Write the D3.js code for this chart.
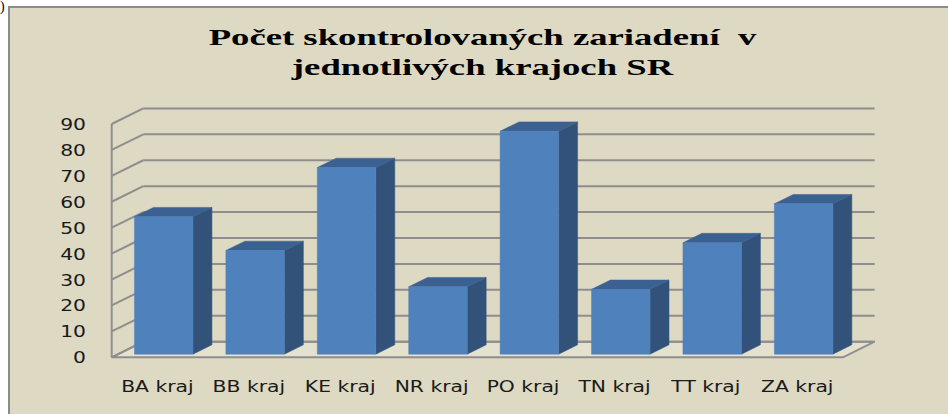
<!DOCTYPE html>
<html>
<head>
<meta charset="utf-8">
<script src="https://cdn.jsdelivr.net/npm/d3@7"></script>
<style>
  body { margin: 0; background: #fff; }
  svg { display: block; }
</style>
</head>
<body>
<script>
// data
var categories = ["BA kraj", "BB kraj", "KE kraj", "NR kraj", "PO kraj", "TN kraj", "TT kraj", "ZA kraj"];
var values = [53, 40, 72, 26, 86, 25, 43, 58];
var yTicks = [0, 10, 20, 30, 40, 50, 60, 70, 80, 90];
var titleLines = ["Počet skontrolovaných zariadení  v", "jednotlivých krajoch SR"];

var W = 948, H = 414;
// 3d box: front floor edge, and depth offset to the back wall
var x0 = 111.7, x1 = 843;
var DX = 31.6, DY = 15.6;
var f0 = 0.2, f1 = 0.8;   // bar front / back depth
var stretch = 1.27;       // picture text is stretched sideways

var svg = d3.select("body").append("svg")
    .attr("width", W)
    .attr("height", H);

// frame
svg.append("rect")
    .attr("x", 9).attr("y", 7)
    .attr("width", W + 20).attr("height", H + 20)
    .style("fill", "#ddd9c3")
    .style("stroke", "#8c8c8c")
    .style("stroke-width", 2);

svg.append("text")
    .attr("x", 0).attr("y", 11)
    .style("font-family", "Liberation Serif")
    .style("font-size", "14px")
    .text(")");

// scales
var x = d3.scaleBand().domain(categories).range([x0, x1]).paddingInner(0.36).paddingOuter(0.18);
var y = d3.scaleLinear().domain([0, 90]).range([357.3, 124]);

function P(px, v, f) {
    return [px + f * DX, y(v) - f * DY];
}

// title
titleLines.forEach(function(t, i) {
    svg.append("text")
        .attr("transform", "translate(482.5," + (45 + i * 30) + ") scale(1.53,1)")
        .attr("text-anchor", "middle")
        .style("white-space", "pre")
        .style("font-family", "Liberation Serif")
        .style("font-weight", "bold")
        .style("font-size", "24px")
        .style("fill", "#000")
        .text(t);
});

var grid = svg.append("g")
    .style("stroke", "#8e8e8e")
    .style("stroke-width", 2)
    .style("fill", "none");

// floor
var floorPts = [P(x0, 0, 0), P(x1, 0, 0), P(x1, 0, 1), P(x0, 0, 1)];
grid.append("polygon")
    .attr("points", floorPts.map(function(p) { return p.join(","); }).join(" "))
    .style("fill", "#e4e1cf");

// back wall gridlines
grid.selectAll(".gl").data(yTicks).enter().append("line")
    .attr("class", "gl")
    .attr("x1", function(d) { return P(x0, d, 1)[0]; })
    .attr("x2", function(d) { return P(x1, d, 1)[0]; })
    .attr("y1", function(d) { return P(x0, d, 1)[1]; })
    .attr("y2", function(d) { return P(x1, d, 1)[1]; });

// side wall diagonals
grid.selectAll(".sw").data(yTicks).enter().append("line")
    .attr("class", "sw")
    .attr("x1", function(d) { return P(x0, d, 0)[0]; })
    .attr("x2", function(d) { return P(x0, d, 1)[0]; })
    .attr("y1", function(d) { return P(x0, d, 0)[1]; })
    .attr("y2", function(d) { return P(x0, d, 1)[1]; });

grid.append("line")
    .attr("x1", x0).attr("x2", x0)
    .attr("y1", y(0)).attr("y2", y(90));

// bars
var bars = svg.selectAll(".bar").data(values).enter().append("g").attr("class", "bar");

function poly(g, pts, fill) {
    g.append("polygon")
        .attr("points", pts.map(function(p) { return p.join(","); }).join(" "))
        .style("fill", fill)
        .style("stroke", fill)
        .style("stroke-width", 0.5);
}

bars.each(function(d, i) {
    var g = d3.select(this);
    var xl = x(categories[i]), xr = xl + x.bandwidth();
    // side
    poly(g, [P(xr, 0, f0), P(xr, 0, f1), P(xr, d, f1), P(xr, d, f0)], "#32527a");
    // top
    poly(g, [P(xl, d, f0), P(xr, d, f0), P(xr, d, f1), P(xl, d, f1)], "#3a6191");
    // front
    poly(g, [P(xl, 0, f0), P(xr, 0, f0), P(xr, d, f0), P(xl, d, f0)], "#4f81bd");
});

// y tick labels
svg.selectAll(".yl").data(yTicks).enter().append("text")
    .attr("class", "yl")
    .attr("transform", function(d) { return "translate(86," + (y(d) + 6) + ") scale(" + stretch + ",1)"; })
    .attr("text-anchor", "end")
    .style("font-family", "DejaVu Sans")
    .style("font-size", "16px")
    .style("fill", "#1a1a1a")
    .text(function(d) { return d; });

// x labels
svg.selectAll(".xl").data(categories).enter().append("text")
    .attr("class", "xl")
    .attr("transform", function(d) { return "translate(" + (x(d) + x.bandwidth() / 2) + ",392) scale(" + stretch + ",1)"; })
    .attr("text-anchor", "middle")
    .style("font-family", "DejaVu Sans")
    .style("font-size", "16px")
    .style("fill", "#1a1a1a")
    .text(function(d) { return d; });
</script>
</body>
</html>
